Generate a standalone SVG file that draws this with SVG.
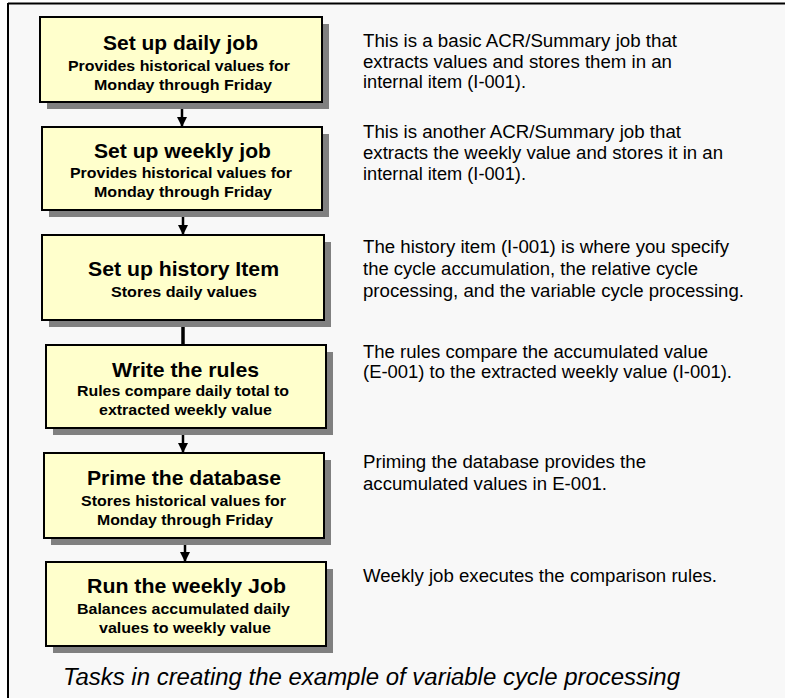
<svg xmlns="http://www.w3.org/2000/svg" width="785" height="698" viewBox="0 0 785 698">
<defs>
<marker id="ah" viewBox="0 0 10 10" refX="10" refY="5" markerWidth="10" markerHeight="10" markerUnits="userSpaceOnUse" orient="auto">
<path d="M0,0 L10,5 L0,10 z" fill="#000"/>
</marker>
</defs>
<style>
.box{fill:#FFFFCC;stroke:#000;stroke-width:2}
.sh{fill:#808080}
.t{font-family:"Liberation Sans",Arial,sans-serif;font-weight:bold;font-size:21px;fill:#000;text-anchor:middle}
.s{font-family:"Liberation Sans",Arial,sans-serif;font-weight:bold;font-size:15px;fill:#000;text-anchor:middle}
.d{font-family:"Liberation Sans",Arial,sans-serif;font-size:17.5px;fill:#000}
.cap{font-family:"Liberation Sans",Arial,sans-serif;font-style:italic;font-size:23px;fill:#000}
.c{stroke:#000;stroke-width:2.5;fill:none}
</style>
<rect x="0" y="0" width="785" height="698" fill="#FFFFFF"/>
<rect x="8" y="3" width="790" height="710" fill="#F8F8F8"/>
<line x1="8" y1="3.5" x2="785" y2="3.5" stroke="#000" stroke-width="2"/>
<line x1="8" y1="3" x2="8" y2="698" stroke="#000" stroke-width="2"/>

<g id="connectors">
<line class="c" x1="182" y1="102" x2="182" y2="127" marker-end="url(#ah)"/>
<line class="c" x1="183" y1="210" x2="183" y2="235" marker-end="url(#ah)"/>
<line x1="183" y1="320" x2="183" y2="345" stroke="#000" stroke-width="3.5"/>
<line class="c" x1="183" y1="428" x2="183" y2="453" marker-end="url(#ah)"/>
<line class="c" x1="185" y1="538" x2="185" y2="562" marker-end="url(#ah)"/>
</g>

<g id="n1">
<rect class="sh" x="47" y="24" width="282" height="85"/>
<rect class="box" x="40" y="17" width="282" height="85"/>
<text class="t" x="180.5" y="50" textLength="155" lengthAdjust="spacingAndGlyphs">Set up daily job</text>
<text class="s" x="179" y="71" textLength="222" lengthAdjust="spacingAndGlyphs">Provides historical values for</text>
<text class="s" x="183" y="90" textLength="178" lengthAdjust="spacingAndGlyphs">Monday through Friday</text>
</g>
<g id="n2">
<rect class="sh" x="49" y="134" width="280" height="83"/>
<rect class="box" x="42" y="127" width="280" height="83"/>
<text class="t" x="182.5" y="158" textLength="177" lengthAdjust="spacingAndGlyphs">Set up weekly job</text>
<text class="s" x="181" y="178" textLength="222" lengthAdjust="spacingAndGlyphs">Provides historical values for</text>
<text class="s" x="183" y="197" textLength="178" lengthAdjust="spacingAndGlyphs">Monday through Friday</text>
</g>
<g id="n3">
<rect class="sh" x="49" y="242" width="282" height="85"/>
<rect class="box" x="42" y="235" width="282" height="85"/>
<text class="t" x="183.5" y="276" textLength="191" lengthAdjust="spacingAndGlyphs">Set up history Item</text>
<text class="s" x="184" y="297" textLength="146" lengthAdjust="spacingAndGlyphs">Stores daily values</text>
</g>
<g id="n4">
<rect class="sh" x="53" y="352" width="280" height="83"/>
<rect class="box" x="46" y="345" width="280" height="83"/>
<text class="t" x="185.5" y="377" textLength="147" lengthAdjust="spacingAndGlyphs">Write the rules</text>
<text class="s" x="183" y="396" textLength="212" lengthAdjust="spacingAndGlyphs">Rules compare daily total to</text>
<text class="s" x="185.5" y="415" textLength="173" lengthAdjust="spacingAndGlyphs">extracted weekly value</text>
</g>
<g id="n5">
<rect class="sh" x="51" y="460" width="280" height="85"/>
<rect class="box" x="44" y="453" width="280" height="85"/>
<text class="t" x="184" y="485" textLength="194" lengthAdjust="spacingAndGlyphs">Prime the database</text>
<text class="s" x="183.5" y="506" textLength="205" lengthAdjust="spacingAndGlyphs">Stores historical values for</text>
<text class="s" x="185" y="525" textLength="176" lengthAdjust="spacingAndGlyphs">Monday through Friday</text>
</g>
<g id="n6">
<rect class="sh" x="53" y="569" width="280" height="84"/>
<rect class="box" x="46" y="562" width="280" height="84"/>
<text class="t" x="186.5" y="593" textLength="199" lengthAdjust="spacingAndGlyphs">Run the weekly Job</text>
<text class="s" x="183.5" y="614" textLength="213" lengthAdjust="spacingAndGlyphs">Balances accumulated daily</text>
<text class="s" x="185" y="633" textLength="172" lengthAdjust="spacingAndGlyphs">values to weekly value</text>
</g>

<g id="descriptions">
<text class="d" x="363" y="47" textLength="314" lengthAdjust="spacingAndGlyphs">This is a basic ACR/Summary job that</text>
<text class="d" x="363" y="68" textLength="309" lengthAdjust="spacingAndGlyphs">extracts values and stores them in an</text>
<text class="d" x="363" y="88" textLength="163" lengthAdjust="spacingAndGlyphs">internal item (I-001).</text>
<text class="d" x="363" y="138" textLength="318" lengthAdjust="spacingAndGlyphs">This is another ACR/Summary job that</text>
<text class="d" x="363" y="159" textLength="360" lengthAdjust="spacingAndGlyphs">extracts the weekly value and stores it in an</text>
<text class="d" x="363" y="180" textLength="163" lengthAdjust="spacingAndGlyphs">internal item (I-001).</text>
<text class="d" x="363" y="253" textLength="366" lengthAdjust="spacingAndGlyphs">The history item (I-001) is where you specify</text>
<text class="d" x="363" y="275" textLength="335" lengthAdjust="spacingAndGlyphs">the cycle accumulation, the relative cycle</text>
<text class="d" x="363" y="297" textLength="381" lengthAdjust="spacingAndGlyphs">processing, and the variable cycle processing.</text>
<text class="d" x="363" y="358" textLength="345" lengthAdjust="spacingAndGlyphs">The rules compare the accumulated value</text>
<text class="d" x="363" y="378" textLength="369" lengthAdjust="spacingAndGlyphs">(E-001) to the extracted weekly value (I-001).</text>
<text class="d" x="363" y="468" textLength="283" lengthAdjust="spacingAndGlyphs">Priming the database provides the</text>
<text class="d" x="363" y="490" textLength="244" lengthAdjust="spacingAndGlyphs">accumulated values in E-001.</text>
<text class="d" x="363" y="582" textLength="354" lengthAdjust="spacingAndGlyphs">Weekly job executes the comparison rules.</text>
</g>

<text class="cap" x="63" y="685" textLength="617" lengthAdjust="spacingAndGlyphs">Tasks in creating the example of variable cycle processing</text>
</svg>
